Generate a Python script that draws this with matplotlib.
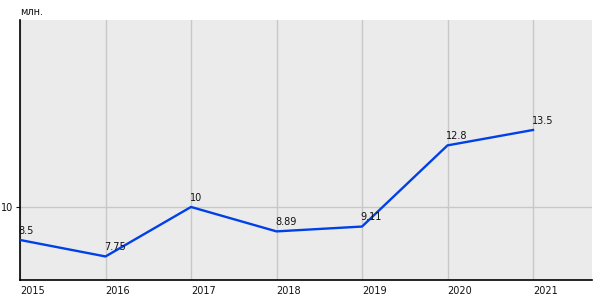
import matplotlib.pyplot as plt

years = [2015, 2016, 2017, 2018, 2019, 2020, 2021]
values = [8.5, 7.75, 10, 8.89, 9.11, 12.8, 13.5]
labels = ["8.5", "7.75", "10", "8.89", "9.11", "12.8", "13.5"]

fig = plt.figure(figsize=(6, 3), dpi=100)
ax = fig.add_axes([20 / 600, 20 / 300, 572 / 600, 260 / 300])
ax.set_facecolor("#ebebeb")

ax.plot(years, values, color="#0040e6", linewidth=1.7, zorder=3)
for x, y, t in zip(years, values, labels):
    ax.annotate(t, (x, y), xytext=(-1, 3), textcoords="offset points",
                ha="left", va="bottom", fontsize=7, color="#111111", zorder=4)

ax.set_xlim(2015, 2021.69)
ax.set_ylim(6.68, 18.5)
ax.set_xticks(years)
ax.set_xticklabels([str(y) for y in years], ha="left")
ax.set_yticks([10])
ax.tick_params(axis="x", length=0, labelsize=7, pad=4, colors="#111111")
ax.tick_params(axis="y", length=3, labelsize=7, pad=2, colors="#111111")
ax.grid(True, color="#c8c8c8", linewidth=1)
ax.set_axisbelow(True)
for s in ["top", "right"]:
    ax.spines[s].set_visible(False)
for s in ["left", "bottom"]:
    ax.spines[s].set_color("black")
    ax.spines[s].set_linewidth(1.2)

fig.text(20 / 600, 1 - 12 / 300, "млн.", fontsize=7, ha="left", va="center", color="#111111")

fig.savefig("out.png", dpi=100)
